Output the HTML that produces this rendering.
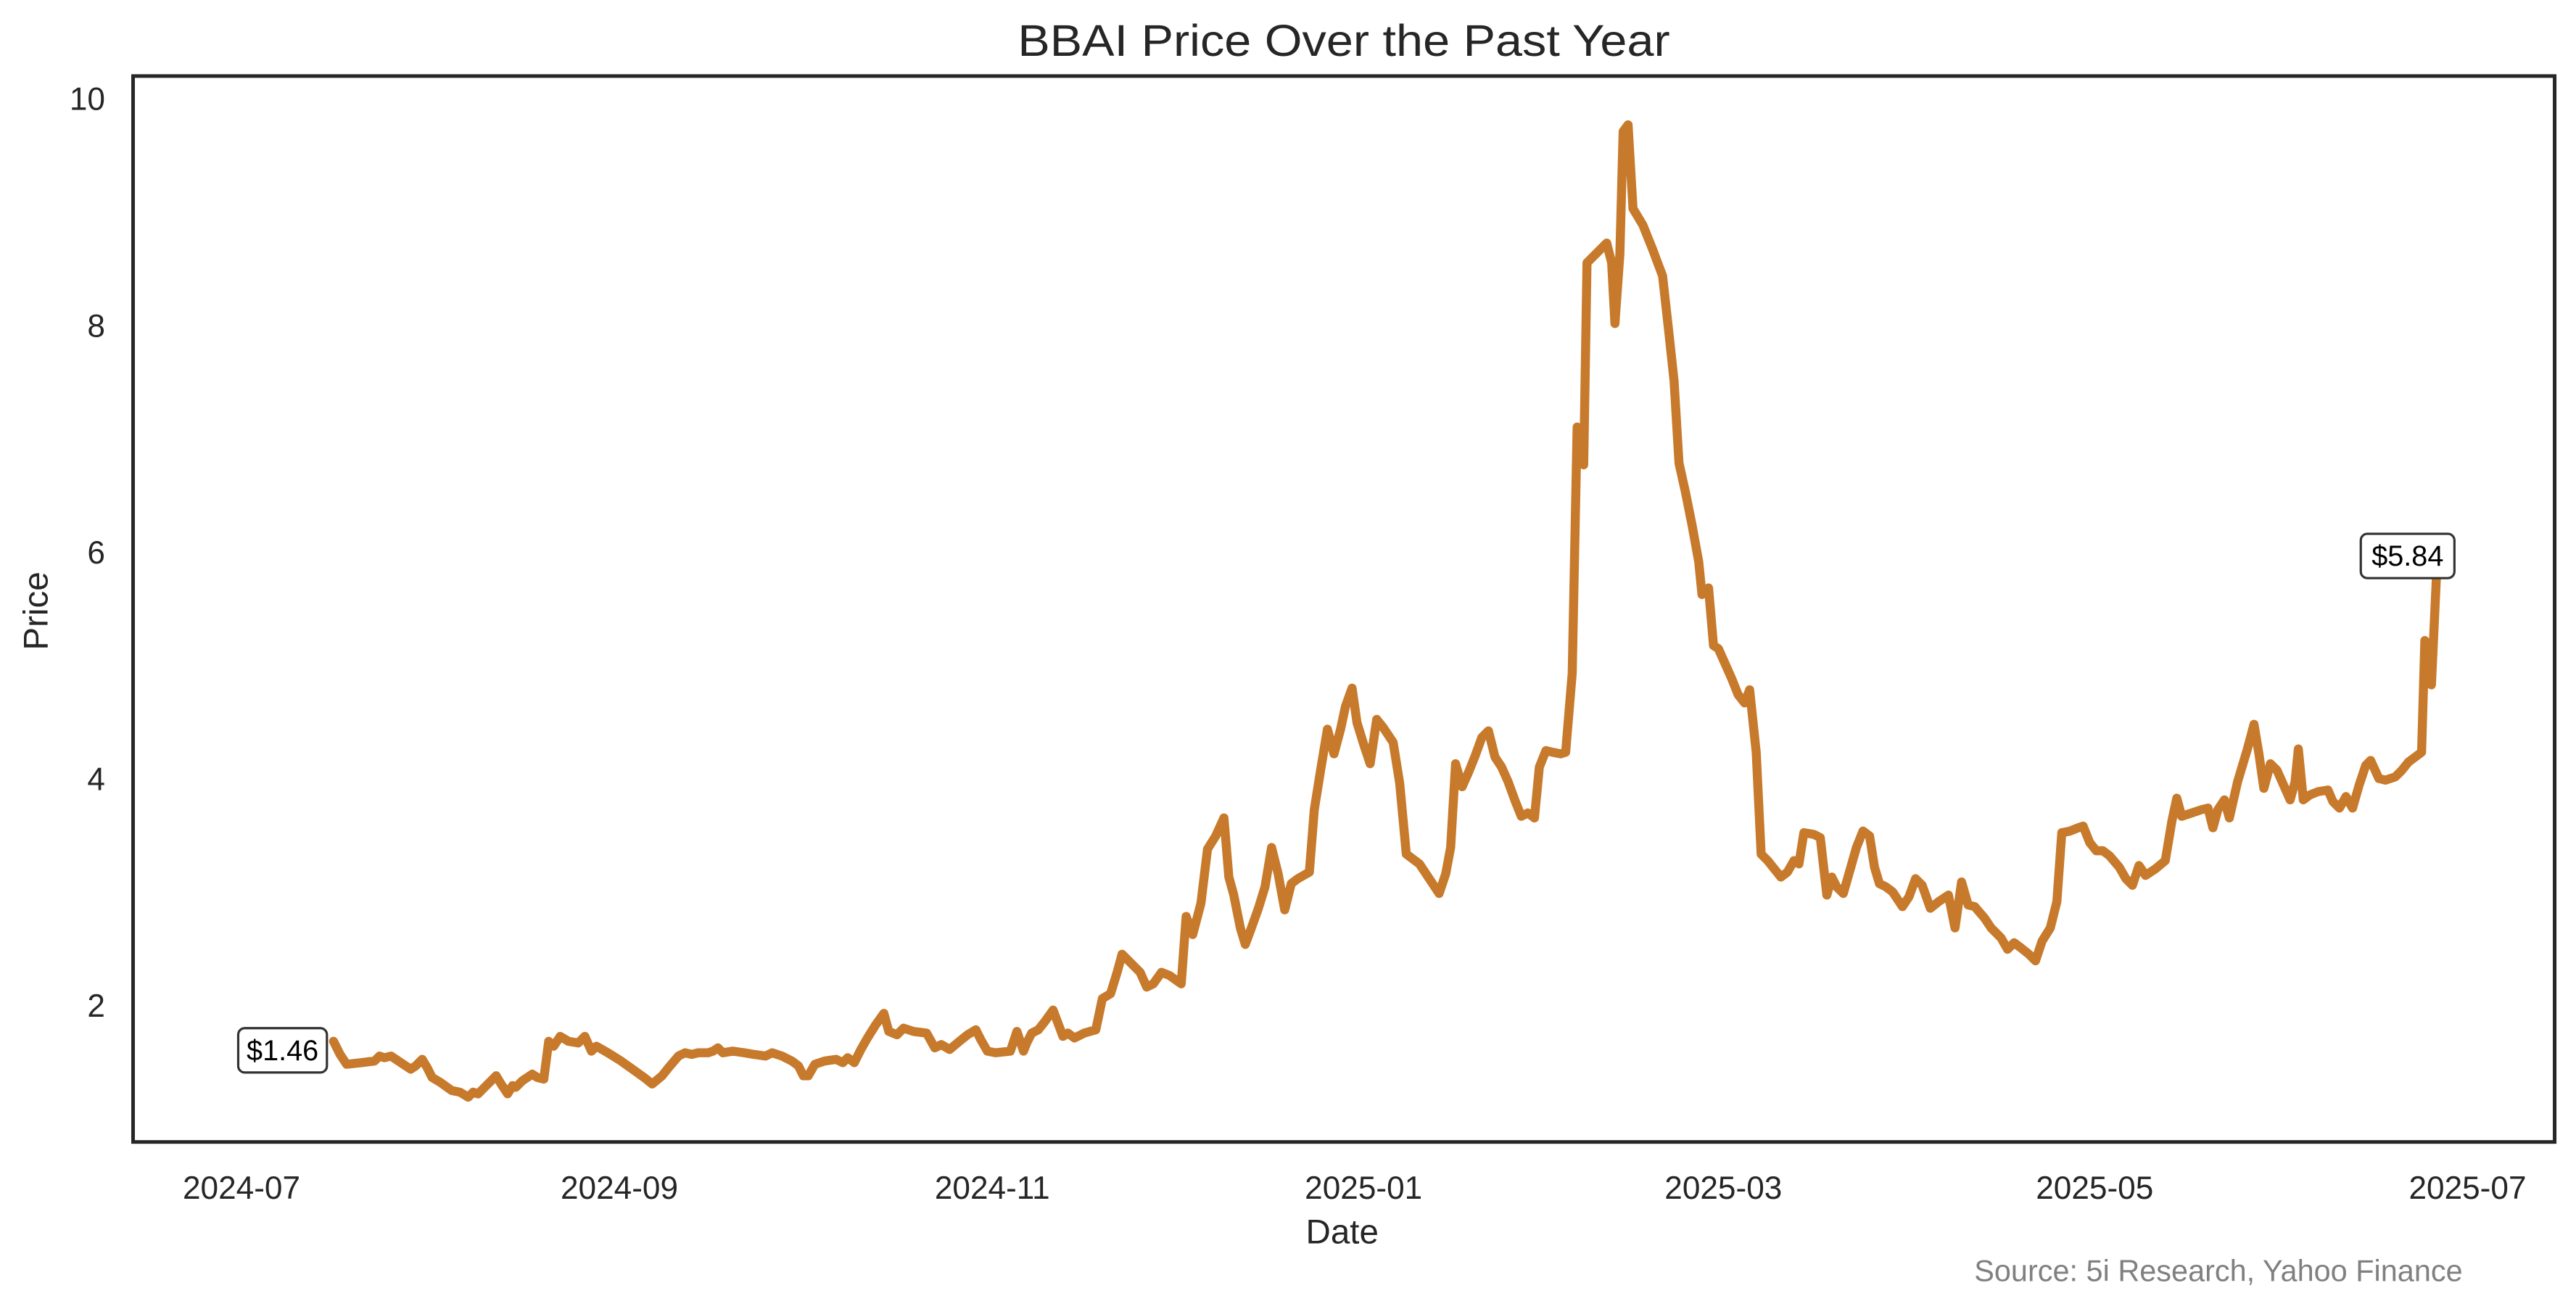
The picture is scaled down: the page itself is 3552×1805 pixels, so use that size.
<!DOCTYPE html>
<html><head><meta charset="utf-8"><style>
html,body{margin:0;padding:0;background:#fff;}
svg{display:block;}
text{font-family:"Liberation Sans",Arial,sans-serif;}
</style></head><body>
<svg width="3552" height="1805" viewBox="0 0 1568 797" preserveAspectRatio="none" xmlns="http://www.w3.org/2000/svg">
<rect width="1568" height="797" fill="#fff"/>
<text x="818" y="34" font-size="27" fill="#262626" text-anchor="middle" textLength="397" lengthAdjust="spacingAndGlyphs">BBAI Price Over the Past Year</text>
<g font-size="19.5" fill="#262626" text-anchor="end">
<text x="64" y="67">10</text>
<text x="64" y="205">8</text>
<text x="64" y="343">6</text>
<text x="64" y="481">4</text>
<text x="64" y="619">2</text>
</g>
<g font-size="19.5" fill="#262626" text-anchor="middle">
<text x="147" y="730">2024-07</text>
<text x="377" y="730">2024-09</text>
<text x="604" y="730">2024-11</text>
<text x="830" y="730">2025-01</text>
<text x="1049" y="730">2025-03</text>
<text x="1275" y="730">2025-05</text>
<text x="1502" y="730">2025-07</text>
</g>
<text x="817" y="757" font-size="21" fill="#262626" text-anchor="middle">Date</text>
<text transform="translate(29,372) rotate(-90)" font-size="21" fill="#262626" text-anchor="middle">Price</text>
<text x="1499" y="780" font-size="18.3" fill="#808080" text-anchor="end">Source: 5i Research, Yahoo Finance</text>
<polyline fill="none" stroke="#C77A2C" stroke-width="5.5" stroke-linejoin="round" stroke-linecap="round" points="203,634 207,642 211,648 220,647 228,646 231,643 234,644 238,643 244,647 250,651 253,649 257,645 260,650 263,656 268,659 275,664 280,665 285,668 288,665 291,666 296,661 302,655 305,660 309,666 312,661 314,662 318,658 324,654 327,656 331,657 334,634 337,637 341,631 346,634 352,635 356,631 360,640 363,637 370,641 378,646 385,651 392,656 397,660 403,655 407,650 413,643 417,641 421,642 425,641 431,641 434,640 437,638 440,641 446,640 453,641 459,642 466,643 470,641 476,643 482,646 486,649 489,655 492,655 496,648 502,646 509,645 513,647 516,644 520,647 524,639 528,632 533,624 538,617 541,628 546,630 550,626 556,628 564,629 569,638 573,636 578,639 584,634 589,630 594,627 597,633 601,640 606,641 615,640 619,628 623,640 625,635 628,629 632,627 636,622 641,615 647,631 650,629 654,632 660,629 667,627 671,608 676,605 680,592 683,581 688,586 694,592 698,601 702,599 707,592 712,594 719,599 722,558 726,569 731,550 735,517 740,509 745,498 748,534 751,545 755,565 758,575 761,567 766,553 770,540 774,516 778,532 782,554 786,538 790,535 797,531 800,493 804,468 808,444 812,459 816,444 819,430 823,419 826,440 830,453 834,465 838,438 842,443 848,452 852,477 856,520 860,523 864,526 868,532 872,538 876,544 880,532 883,516 886,465 890,479 894,470 898,460 902,449 906,445 910,461 914,467 918,476 922,487 926,497 930,495 934,498 937,467 941,457 945,458 950,459 953,458 957,410 960,260 964,283 966,160 970,156 976,150 978,148 981,160 983,197 986,155 988,80 991,76 994,127 1000,137 1006,152 1012,168 1016,204 1019,232 1022,282 1026,300 1030,320 1034,342 1036,362 1040,358 1043,393 1046,395 1050,404 1054,413 1058,423 1062,428 1065,420 1069,458 1072,520 1076,524 1080,529 1084,534 1088,531 1092,524 1095,526 1098,507 1104,508 1108,510 1112,545 1115,534 1118,540 1122,544 1126,530 1130,516 1134,506 1138,509 1141,528 1144,538 1148,540 1152,543 1158,552 1162,546 1166,535 1170,539 1175,553 1180,549 1186,545 1190,565 1194,537 1198,551 1202,552 1208,559 1212,565 1218,571 1222,578 1226,574 1230,577 1235,581 1239,585 1243,573 1248,565 1252,549 1255,507 1260,506 1265,504 1268,503 1272,513 1276,518 1280,518 1284,521 1290,528 1294,535 1298,539 1302,527 1306,533 1312,529 1318,524 1322,500 1325,486 1328,497 1334,495 1340,493 1344,492 1347,504 1350,493 1354,487 1357,498 1362,476 1368,456 1372,441 1375,459 1378,480 1382,465 1386,469 1390,478 1394,487 1397,476 1399,456 1402,487 1406,484 1411,482 1417,481 1420,488 1424,492 1428,485 1432,492 1436,478 1440,466 1443,463 1448,474 1452,475 1458,473 1462,469 1466,464 1470,461 1474,458 1476,390 1480,417 1483,352"/>
<rect x="145" y="626" width="54" height="27" rx="4" fill="#fff" stroke="#333" stroke-width="1.4"/>
<text x="172" y="645.5" font-size="17.5" fill="#000" text-anchor="middle">$1.46</text>
<rect x="1437" y="325" width="57" height="27" rx="4" fill="#fff" stroke="#333" stroke-width="1.4"/>
<text x="1465.5" y="344.5" font-size="17.5" fill="#000" text-anchor="middle">$5.84</text>
<rect x="81" y="46.3" width="1474" height="649" fill="none" stroke="#262626" stroke-width="2.2"/>
</svg>
</body></html>
